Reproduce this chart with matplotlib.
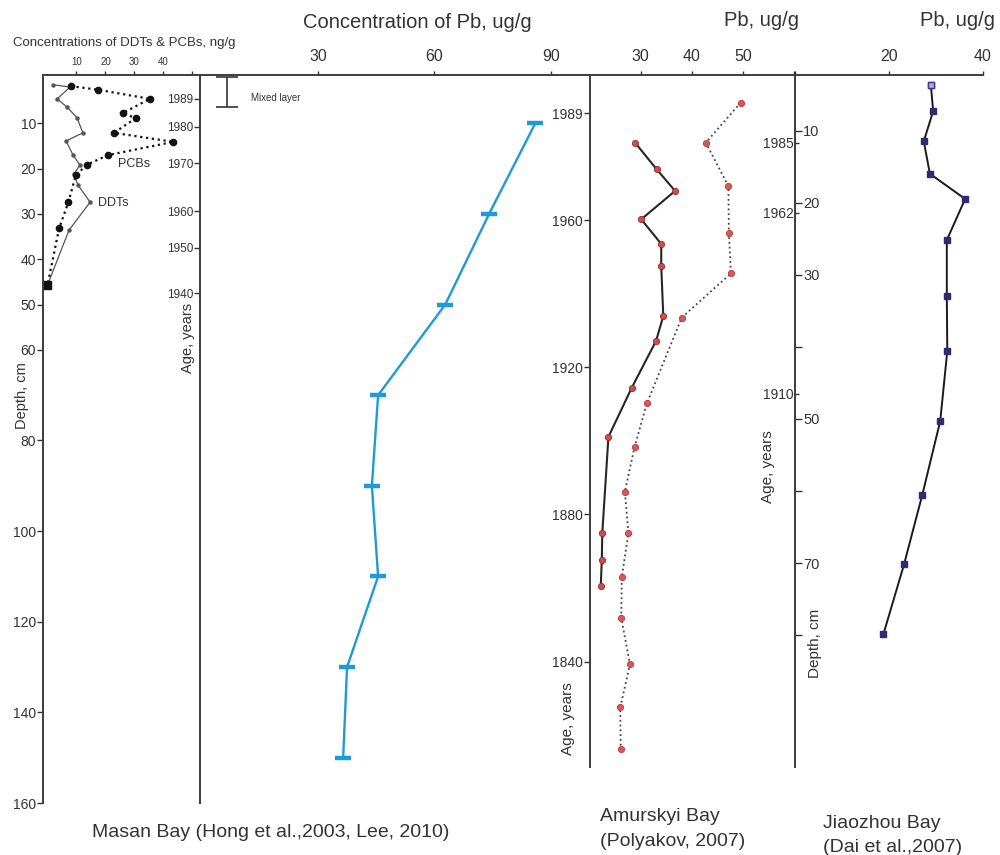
import matplotlib
matplotlib.use("Agg")
import matplotlib.pyplot as plt

plt.rcParams['font.family'] = ['Liberation Sans', 'DejaVu Sans']

# ---------------- data ----------------
# Masan Bay organochlorines (ng/g) versus depth (cm)
ddt_conc = [1.9, 7.8, 3.3, 6.7, 10.2, 12.2, 6.4, 8.8, 11.2, 9.1, 10.5, 14.7, 7.4, 0.0]
ddt_depth = [1.5, 2.0, 4.6, 6.4, 8.8, 12.1, 13.9, 17.0, 19.2, 21.2, 23.6, 27.4, 33.6, 45.7]
pcb_conc = [8.0, 17.5, 35.3, 26.1, 30.4, 22.9, 43.4, 21.0, 13.7, 9.8, 7.2, 4.0, 0.0]
pcb_depth = [1.8, 2.6, 4.6, 7.7, 8.9, 12.1, 14.1, 17.0, 19.1, 21.4, 27.4, 33.2, 45.7]

# Masan Bay Pb (ug/g) versus depth (cm)
masan_depth = [10, 30, 50, 70, 90, 110, 130, 150]
masan_pb = [86.0, 74.1, 62.8, 45.5, 43.9, 45.5, 37.5, 36.5]
masan_age_years = [1989, 1980, 1970, 1960, 1950, 1940]
masan_age_depth = [4.6, 10.8, 18.8, 29.4, 37.5, 47.5]
mixed_layer_depth = [-0.2, 6.4]

# Amurskyi Bay Pb (ug/g) versus age (years), two cores
amur_a_year = [1981.0, 1973.8, 1967.9, 1960.2, 1953.5, 1947.5, 1933.9, 1927.2,
               1914.3, 1901.1, 1875.0, 1867.6, 1860.5]
amur_a_pb = [28.9, 33.1, 36.7, 30.1, 34.0, 34.0, 34.4, 33.0, 28.2, 23.7, 22.5, 22.4, 22.2]
amur_b_year = [1991.9, 1981.0, 1969.2, 1956.5, 1945.5, 1933.5, 1910.2, 1898.4,
               1886.2, 1875.0, 1862.9, 1851.9, 1839.3, 1827.6, 1816.2]
amur_b_pb = [49.5, 42.7, 47.1, 47.2, 47.6, 38.0, 31.2, 28.8, 26.9, 27.6, 26.3,
             26.2, 27.9, 26.0, 26.1]
amur_age_ticks = [1989, 1960, 1920, 1880, 1840]

# Jiaozhou Bay Pb (ug/g) versus depth (cm)
jz_depth = [3.7, 7.3, 11.5, 16.0, 19.5, 25.2, 32.9, 40.6, 50.3, 60.5, 70.2, 79.9]
jz_pb = [28.9, 29.4, 27.4, 28.7, 36.2, 32.3, 32.3, 32.4, 30.9, 27.1, 23.2, 18.8]
jz_age_years = [1985, 1962, 1910]
jz_age_depth = [11.7, 21.4, 46.5]
jz_depth_ticks = [10, 20, 30, 40, 50, 60, 70, 80]
jz_depth_labels = ['10', '20', '30', '', '50', '', '70', '']

depth_ticks = [10, 20, 30, 40, 50, 60, 80, 100, 120, 140, 160]

# ---------------- layout ----------------
W, H = 1000, 855
fig = plt.figure(figsize=(W / 100, H / 100), dpi=100)
fig.patch.set_facecolor('white')

INK = '#333333'
SPINE = '#3c3c3c'
BLUE = '#1f9ad8'


def box(x0, y0, x1, y1):
    return [x0 / W, 1 - y1 / H, (x1 - x0) / W, (y1 - y0) / H]


def fxy(x, y):
    return x / W, 1 - y / H


def base(ax, spines):
    for name, s in ax.spines.items():
        s.set_visible(name in spines)
        s.set_color(SPINE)
        s.set_linewidth(1.4)
    ax.patch.set_visible(False)
    ax.tick_params(colors=INK, width=1.0)
    ax.xaxis.tick_top()


# --- DDTs / PCBs panel ---
ax_oc = fig.add_axes(box(43, 75, 200, 803))
base(ax_oc, ['left', 'top'])
ax_oc.set_xlim(-1.55, 52.6)
ax_oc.set_ylim(160, -0.66)
ax_oc.plot(ddt_conc, ddt_depth, '-', color='#555555', lw=0.9,
           marker='o', ms=2.2, mfc='#555555', mec='#555555')
ax_oc.plot(pcb_conc[:-1], pcb_depth[:-1], ':', color='#111111', lw=1.6,
           marker='o', ms=4.5, mfc='#111111', mec='#111111')
ax_oc.plot(pcb_conc[-2:], pcb_depth[-2:], ':', color='#111111', lw=1.6)
ax_oc.plot(pcb_conc[-1:], pcb_depth[-1:], 's', color='#111111', ms=6)
ax_oc.set_xticks([10, 20, 30, 40, 50], labels=['10', '20', '30', '40', ''])
ax_oc.tick_params(axis='x', direction='out', length=3, labelsize=7, pad=3)
ax_oc.set_yticks(depth_ticks, labels=[str(t) for t in depth_ticks])
ax_oc.tick_params(axis='y', direction='out', length=4, labelsize=10, pad=1)
ax_oc.text(*fxy(118, 164), 'PCBs', transform=fig.transFigure, fontsize=9,
           color=INK, va='center', ha='left')
ax_oc.text(*fxy(98, 203), 'DDTs', transform=fig.transFigure, fontsize=9,
           color=INK, va='center', ha='left')

# --- Masan Bay Pb panel ---
ax_ms = fig.add_axes(box(200, 75, 590, 803))
base(ax_ms, ['left', 'top'])
ax_ms.set_xlim(-0.39, 100.1)
ax_ms.set_ylim(160, -0.66)
ax_ms.plot(masan_pb, masan_depth, '-', color=BLUE, lw=1.7,
           marker='_', ms=12, mew=3.2, mec=BLUE)
ax_ms.set_xticks([30, 60, 90], labels=['30', '60', '90'])
ax_ms.tick_params(axis='x', direction='out', length=3, labelsize=11.5, pad=5)
ax_ms.set_yticks(masan_age_depth, labels=[str(y) for y in masan_age_years])
ax_ms.tick_params(axis='y', direction='out', length=4, labelsize=8.5, pad=1)
mid = (mixed_layer_depth[0] + mixed_layer_depth[1]) / 2
half = (mixed_layer_depth[1] - mixed_layer_depth[0]) / 2
ax_ms.errorbar([6.6], [mid], yerr=[half], fmt='none', ecolor=INK,
               elinewidth=1.2, capsize=8, capthick=1.2)
fig.text(*fxy(251, 98), 'Mixed layer', fontsize=7, color=INK,
         ha='left', va='center')

# --- Amurskyi Bay panel ---
ax_am = fig.add_axes(box(590, 75, 795, 767))
base(ax_am, ['left', 'top'])
ax_am.set_xlim(20.1, 60.1)
ax_am.set_ylim(1811.4, 1999.4)
ax_am.plot(amur_b_pb, amur_b_year, ':', color='#444444', lw=1.3,
           marker='o', ms=4.5, mfc='#dd5555', mec='#b03a3a', mew=0.6)
ax_am.plot(amur_a_pb, amur_a_year, '-', color='#262626', lw=1.5,
           marker='o', ms=4.5, mfc='#d24c4c', mec='#8a2a2a', mew=0.6)
ax_am.set_xticks([30, 40, 50, 60], labels=['30', '40', '50', ''])
ax_am.tick_params(axis='x', direction='out', length=3, labelsize=11.5, pad=5)
ax_am.set_yticks(amur_age_ticks, labels=[str(y) for y in amur_age_ticks])
ax_am.tick_params(axis='y', direction='out', length=4, labelsize=10, pad=1)

# Jiaozhou depth scale drawn on the right of the shared divider
ax_jd = fig.add_axes(box(590, 75, 795, 767))
for s in ax_jd.spines.values():
    s.set_visible(False)
ax_jd.patch.set_visible(False)
ax_jd.set_xticks([])
ax_jd.set_ylim(98.3, 2.3)
ax_jd.yaxis.tick_right()
ax_jd.set_yticks(jz_depth_ticks, labels=jz_depth_labels)
ax_jd.tick_params(axis='y', direction='out', length=5, labelsize=10.5,
                  pad=1, colors=INK, width=1.0)

# --- Jiaozhou Bay panel ---
ax_jz = fig.add_axes(box(795, 75, 983, 767))
base(ax_jz, ['left', 'top'])
ax_jz.set_xlim(0, 40)
ax_jz.set_ylim(98.3, 2.3)
ax_jz.plot(jz_pb, jz_depth, '-', color='#1a1a1a', lw=1.4,
           marker='s', ms=4.5, mfc='#2c2c6e', mec='#2c2c6e')
ax_jz.plot(jz_pb[:1], jz_depth[:1], 's', ms=5, mfc='#a8acd8', mec='#3a3a8a')
ax_jz.set_xticks([0, 20, 40], labels=['', '20', '40'])
ax_jz.tick_params(axis='x', direction='out', length=3, labelsize=11.5, pad=5)
ax_jz.set_yticks(jz_age_depth, labels=[str(y) for y in jz_age_years])
ax_jz.tick_params(axis='y', direction='in', length=3, labelsize=10, pad=1)

# ---------------- labels ----------------
fig.text(*fxy(417, 22), 'Concentration of Pb, ug/g', fontsize=14.5,
         color=INK, ha='center', va='center')
fig.text(*fxy(13, 43), 'Concentrations of DDTs & PCBs, ng/g', fontsize=9.5,
         color=INK, ha='left', va='center')
fig.text(*fxy(761, 20), 'Pb, ug/g', fontsize=14.5, color=INK,
         ha='center', va='center')
fig.text(*fxy(957, 20), 'Pb, ug/g', fontsize=14.5, color=INK,
         ha='center', va='center')

fig.text(*fxy(22, 396), 'Depth, cm', rotation=90, fontsize=10.5, color=INK,
         ha='center', va='center')
fig.text(*fxy(188, 338), 'Age, years', rotation=90, fontsize=10.5, color=INK,
         ha='center', va='center')
fig.text(*fxy(568, 719), 'Age, years', rotation=90, fontsize=11, color=INK,
         ha='center', va='center')
fig.text(*fxy(768, 467), 'Age, years', rotation=90, fontsize=11, color=INK,
         ha='center', va='center')
fig.text(*fxy(815, 643), 'Depth, cm', rotation=90, fontsize=11, color=INK,
         ha='center', va='center')

fig.text(*fxy(92, 832), 'Masan Bay (Hong et al.,2003, Lee, 2010)', fontsize=14,
         color=INK, ha='left', va='center')
fig.text(*fxy(600, 816), 'Amurskyi Bay', fontsize=14, color=INK,
         ha='left', va='center')
fig.text(*fxy(600, 841), '(Polyakov, 2007)', fontsize=14, color=INK,
         ha='left', va='center')
fig.text(*fxy(823, 823), 'Jiaozhou Bay', fontsize=14, color=INK,
         ha='left', va='center')
fig.text(*fxy(823, 847), '(Dai et al.,2007)', fontsize=14, color=INK,
         ha='left', va='center')

fig.savefig('out.png', dpi=100, facecolor='white')
